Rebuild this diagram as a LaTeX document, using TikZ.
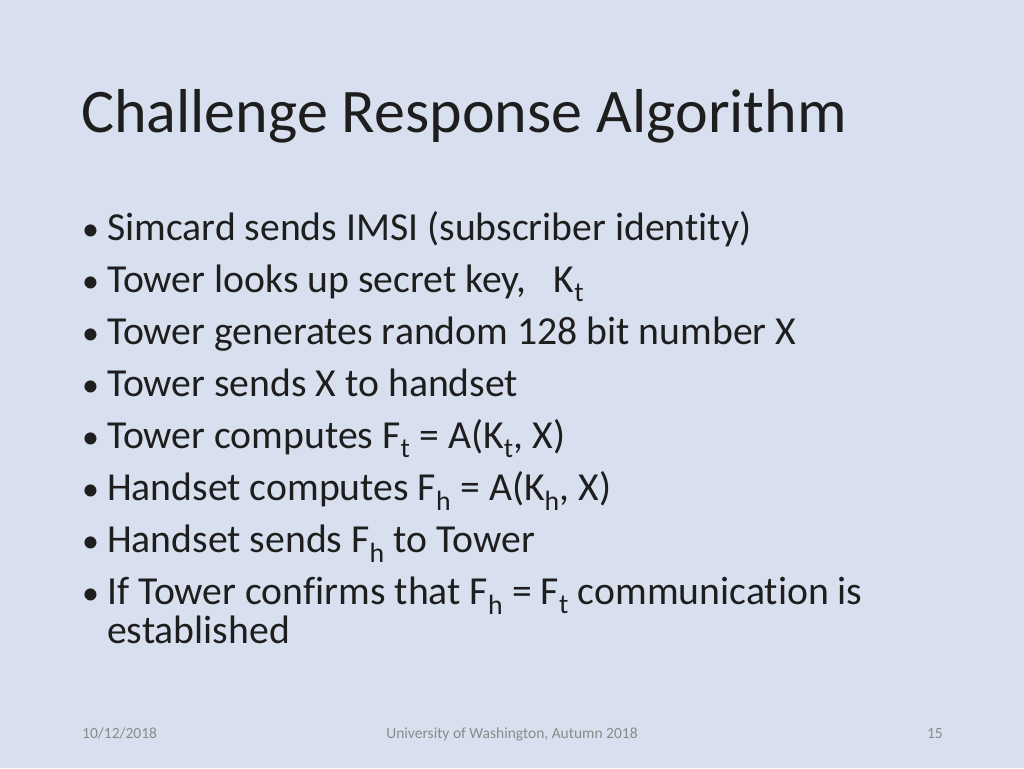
\documentclass[tikz,border=0pt]{standalone}
\usepackage{fontspec}
\setmainfont{Carlito}[RawFeature=-liga]
\definecolor{bg}{HTML}{D8E0EF}
\definecolor{tx}{HTML}{1E1E1E}
\definecolor{ft}{HTML}{8A8A8A}
\newcommand{\sbs}[1]{\textsubscript{#1}}
\begin{document}
\begin{tikzpicture}[x=1pt,y=-1pt,
  bl/.style={anchor=base west,inner sep=0pt,text=tx,font=\fontsize{39.7}{44}\selectfont},
  dot/.style={anchor=base west,inner sep=0pt,text=tx,font=\fontsize{34}{40}\selectfont},
  foot/.style={anchor=base,inner sep=0pt,text=ft,font=\fontsize{15.5}{18}\selectfont}]
\fill[bg] (0,0) rectangle (1024,768);
\useasboundingbox (0,0) rectangle (1024,768);
\node[anchor=base west,inner sep=0pt,text=tx,font=\fontsize{62}{70}\selectfont] (title) at (81,132) {Challenge Response Algorithm};
\foreach \i/\t in {1/{Simcard sends IMSI (subscriber identity)},
  2/{Tower looks up secret key, \ \ K\sbs{t}},
  3/{Tower generates random 128 bit number X},
  4/{Tower sends X to handset},
  5/{Tower computes F\sbs{t} = A(K\sbs{t}, X)},
  6/{Handset computes F\sbs{h} = A(K\sbs{h}, X)},
  7/{Handset sends F\sbs{h} to Tower},
  8/{If Tower confirms that F\sbs{h} = F\sbs{t} communication is}}{
  \node[dot] (d\i) at (82,{188+52*\i}) {•};
  \node[bl] (b\i) at (107,{188+52*\i}) {\t};
}
\node[bl] (b9) at (107,643) {established};
\node[foot,anchor=base west] (date) at (82,738) {10/12/2018};
\node[foot] (uni) at (512,738) {University of Washington, Autumn 2018};
\node[foot,anchor=base east] (pg) at (943,738) {15};
\end{tikzpicture}
\end{document}
